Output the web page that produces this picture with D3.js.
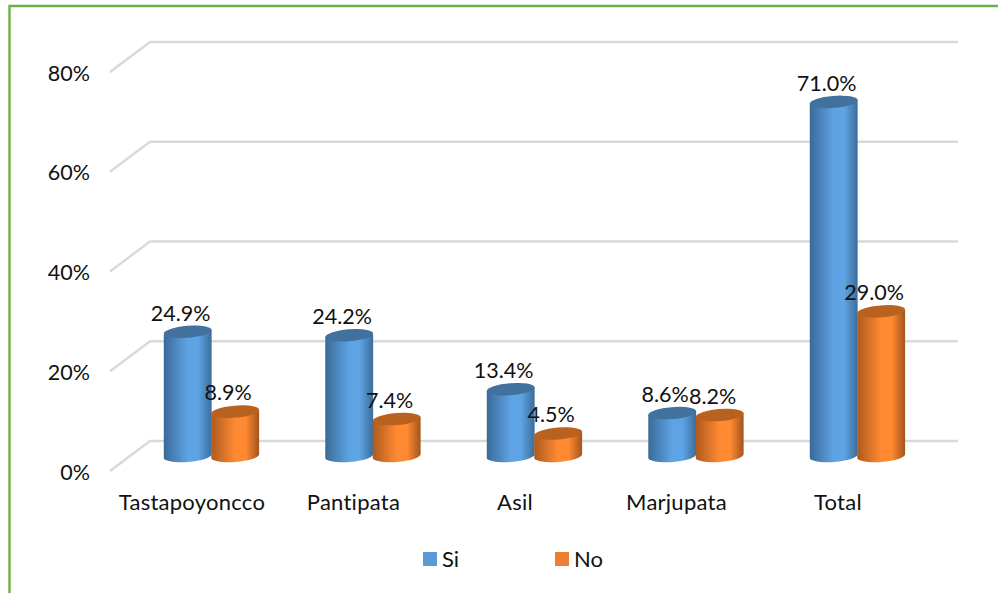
<!DOCTYPE html>
<html><head><meta charset="utf-8">
<script src="https://cdn.jsdelivr.net/npm/d3@7/dist/d3.min.js"></script>
<style>html,body{margin:0;padding:0;background:#fff}svg{display:block}text{font-family:Lato,"Open Sans",sans-serif;fill:#111}</style>
</head><body><svg id="c" width="998" height="593"></svg>
<script>
const categories=["Tastapoyoncco","Pantipata","Asil","Marjupata","Total"];
const seriesNames=["Si","No"];
const si=[24.9,24.2,13.4,8.6,71.0];
const no=[8.9,7.4,4.5,8.2,29.0];
const ticks=[0,20,40,60,80];
const colors={Si:["#3a6a98","#5ea3e4","#3b6d99","#41719c","#5b9bd5"],No:["#ad5a1e","#ff8a32","#a3541c","#b9611f","#ed7d31"]};

const svg=d3.select("#c"),W=998,H=593;
const yBack=d3.scaleLinear().domain([0,80]).range([441,42]);
const depth={x:40,y:30};
const x0=d3.scaleBand().domain(categories).range([130.7,938.2]).paddingInner(0.412).paddingOuter(0.206);
const x1=d3.scaleBand().domain(seriesNames).range([0,x0.bandwidth()]);
const yBar=v=>yBack(v)+15;
const rx=24,ry=6,tilt=-4.5;

// frame
svg.append("path").attr("d",`M9.5 593V6H998`).attr("fill","none").attr("stroke","#70ad47").attr("stroke-width",2.4);

// grid
const g=svg.append("g").attr("fill","none").attr("stroke","#d9d9d9").attr("stroke-width",2.4);
ticks.forEach(t=>{const y=yBack(t);
 g.append("path").attr("d",`M${150-depth.x} ${y+depth.y}L150 ${y}H958`);
});
// tick labels
svg.append("g").selectAll("text").data(ticks).join("text")
 .attr("x",90).attr("y",d=>yBack(d)+depth.y+1).attr("dy","0.36em").attr("text-anchor","end")
 .attr("font-size",21.5).text(d=>d+"%");

// defs
const defs=svg.append("defs");
seriesNames.forEach(s=>{
 const lg=defs.append("linearGradient").attr("id","g"+s);
 lg.append("stop").attr("offset","0").attr("stop-color",colors[s][0]);
 lg.append("stop").attr("offset","0.5").attr("stop-color",colors[s][1]);
 lg.append("stop").attr("offset","0.72").attr("stop-color",colors[s][1]);
 lg.append("stop").attr("offset","1").attr("stop-color",colors[s][2]);
});
const rad=tilt*Math.PI/180,dx=rx*Math.cos(rad),dy=rx*Math.sin(rad);
function cyl(gr,cx,v,s){
 const top=yBar(v),base=yBar(0);
 gr.append("path").attr("fill",`url(#g${s})`)
  .attr("d",`M${cx-dx} ${top-dy}L${cx-dx} ${base-dy}A${rx} ${ry} ${tilt} 0 0 ${cx+dx} ${base+dy}L${cx+dx} ${top+dy}Z`);
 gr.append("ellipse").attr("cx",cx).attr("cy",top).attr("rx",rx).attr("ry",ry)
  .attr("transform",`rotate(${tilt} ${cx} ${top})`).attr("fill",colors[s][3]);
}
const marks=svg.append("g");
categories.forEach((c,i)=>{
 cyl(marks,x0(c)+x1("Si")+x1.bandwidth()/2,si[i],"Si");
 cyl(marks,x0(c)+x1("No")+x1.bandwidth()/2,no[i],"No");
});
// data labels
const lab=svg.append("g").attr("font-size",21.5).attr("text-anchor","middle");
const fmt=d3.format(".1f");
categories.forEach((c,i)=>{
 [[ "Si",si[i]],["No",no[i]]].forEach(([s,v])=>{
  lab.append("text").attr("x",x0(c)+x1(s)+x1.bandwidth()/2-7).attr("y",yBar(v)-19).attr("dy","0.36em").text(fmt(v)+"%");
 });
});
// category labels
svg.append("g").selectAll("text").data(categories).join("text")
 .attr("x",d=>x0(d)+x0.bandwidth()/2-19.5).attr("y",502).attr("dy","0.36em").attr("text-anchor","middle")
 .attr("font-size",22).attr("letter-spacing",0.25).text(d=>d);
// legend
const leg=d3.scaleOrdinal().domain(seriesNames).range([423,555]);
seriesNames.forEach(s=>{
 svg.append("rect").attr("x",leg(s)).attr("y",552).attr("width",14).attr("height",14).attr("fill",colors[s][4]);
 svg.append("text").attr("x",leg(s)+19).attr("y",559).attr("dy","0.36em").attr("font-size",22).text(s);
});
</script></body></html>
